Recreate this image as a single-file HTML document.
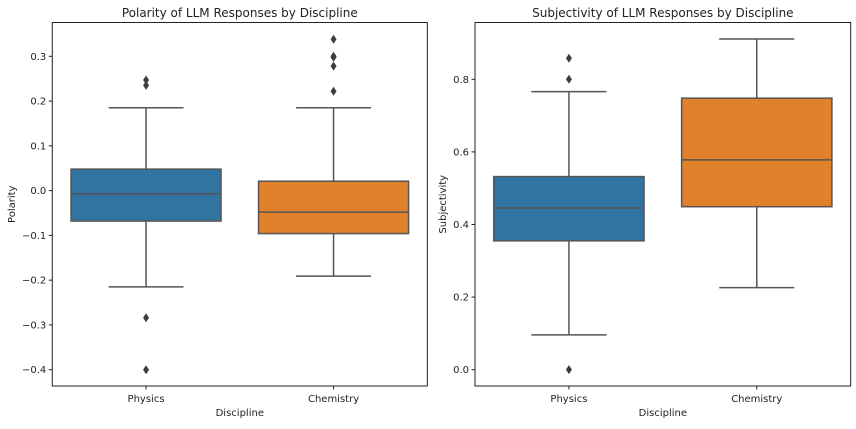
<!DOCTYPE html>
<html><head><meta charset="utf-8"><style>
body{margin:0;background:#fff;font-family:"Liberation Sans","DejaVu Sans",sans-serif;}
svg text{font-family:"DejaVu Sans","Liberation Sans",sans-serif;fill:#222;}
</style></head><body>
<svg id="chart" width="856" height="424" xmlns="http://www.w3.org/2000/svg"></svg>
<script>
const categories = ["Physics", "Chemistry"];
const polarityStats = [
  {q1:-0.068, med:-0.007, q3:0.048, lo:-0.215, hi:0.185},
  {q1:-0.096, med:-0.048, q3:0.021, lo:-0.191, hi:0.185}
];
const polarityOutliers = [[0.247, 0.235, -0.284, -0.40], [0.338, 0.30, 0.298, 0.278, 0.222]];
const polarityTicks = [-0.4, -0.3, -0.2, -0.1, 0.0, 0.1, 0.2, 0.3];
const subjStats = [
  {q1:0.355, med:0.4455, q3:0.532, lo:0.096, hi:0.766},
  {q1:0.449, med:0.578, q3:0.748, lo:0.226, hi:0.911}
];
const subjOutliers = [[0.858, 0.80, 0.0], []];
const subjTicks = [0.0, 0.2, 0.4, 0.6, 0.8];
const colors = ["#3274a1", "#e1812c"];

const svg = document.getElementById('chart');
const NS = "http://www.w3.org/2000/svg";
function mk(tag, attrs, parent){
  const e = document.createElementNS(NS, tag);
  for (const k in attrs) e.setAttribute(k, attrs[k]);
  (parent||svg).appendChild(e);
  return e;
}
function panel(opt){
  const g = mk('g', {});
  
  
  const L=opt.x0, R=opt.x1, T=22.5, B=386;
  const y = v => B - (v - opt.ymin)/(opt.ymax-opt.ymin)*(B-T);
  const bw = (R-L)/categories.length;
  const x = i => L + bw*(i+0.5);
  const lc = "#555";
  opt.stats.forEach((s,i)=>{
    const cx = x(i), hw = bw*0.4, cw = bw*0.2;
    const bg = mk('g', {}, g);
    
    
    mk('line', {x1:cx, x2:cx, y1:y(s.q3), y2:y(s.hi), stroke:lc, 'stroke-width':1.5}, bg);
    mk('line', {x1:cx, x2:cx, y1:y(s.q1), y2:y(s.lo), stroke:lc, 'stroke-width':1.5}, bg);
    mk('line', {x1:cx-cw, x2:cx+cw, y1:y(s.hi), y2:y(s.hi), stroke:lc, 'stroke-width':1.5}, bg);
    mk('line', {x1:cx-cw, x2:cx+cw, y1:y(s.lo), y2:y(s.lo), stroke:lc, 'stroke-width':1.5}, bg);
    mk('rect', {x:cx-hw, y:y(s.q3), width:2*hw, height:y(s.q1)-y(s.q3), fill:colors[i], stroke:lc, 'stroke-width':1.5}, bg);
    mk('line', {x1:cx-hw, x2:cx+hw, y1:y(s.med), y2:y(s.med), stroke:lc, 'stroke-width':1.5}, bg);
    opt.outliers[i].forEach(v=>{
      const p = mk('path', {d:`M${cx},${y(v)-4.5} L${cx+3},${y(v)} L${cx},${y(v)+4.5} L${cx-3},${y(v)} Z`, fill:"#3d3d3d"}, bg);
      
      
    });
  });
  mk('rect', {x:L, y:T, width:R-L, height:B-T, fill:'none', stroke:'#222', 'stroke-width':1}, g);
  opt.ticks.forEach(t=>{
    mk('line', {x1:L-3.5, x2:L, y1:y(t), y2:y(t), stroke:'#222'}, g);
    const tx = mk('text', {x:L-6, y:y(t)+3.5, 'font-size':10, 'text-anchor':'end'}, g);
    tx.textContent = (t<0?'\u2212':'') + Math.abs(t).toFixed(1);
    
    
  });
  categories.forEach((c,i)=>{
    mk('line', {x1:x(i), x2:x(i), y1:B, y2:B+3.5, stroke:'#222'}, g);
    const tx = mk('text', {x:x(i), y:B+16, 'font-size':10, 'text-anchor':'middle'}, g);
    tx.textContent = c;
    
    
  });
  const xt = mk('text', {x:(L+R)/2, y:B+30, 'font-size':10, 'text-anchor':'middle'}, g);
  xt.textContent = 'Discipline';
  
  
  const yt = mk('text', {x:0, y:0, 'font-size':10, 'text-anchor':'middle', transform:`translate(${opt.ylabX},${(T+B)/2}) rotate(-90)`}, g);
  yt.textContent = opt.ylabel;
  
  
  const tt = mk('text', {x:(L+R)/2, y:17, 'font-size':12, 'text-anchor':'middle'}, g);
  tt.textContent = opt.title;
  
  
}
panel({name:'polarity-panel', x0:52.3, x1:427.3, ymin:-0.4364, ymax:0.3755, stats:polarityStats, outliers:polarityOutliers, ticks:polarityTicks, ylabel:'Polarity', ylabX:15, title:'Polarity of LLM Responses by Discipline'});
panel({name:'subjectivity-panel', x0:475, x1:850.7, ymin:-0.045, ymax:0.9565, stats:subjStats, outliers:subjOutliers, ticks:subjTicks, ylabel:'Subjectivity', ylabX:446, title:'Subjectivity of LLM Responses by Discipline'});
</script>
</body></html>
